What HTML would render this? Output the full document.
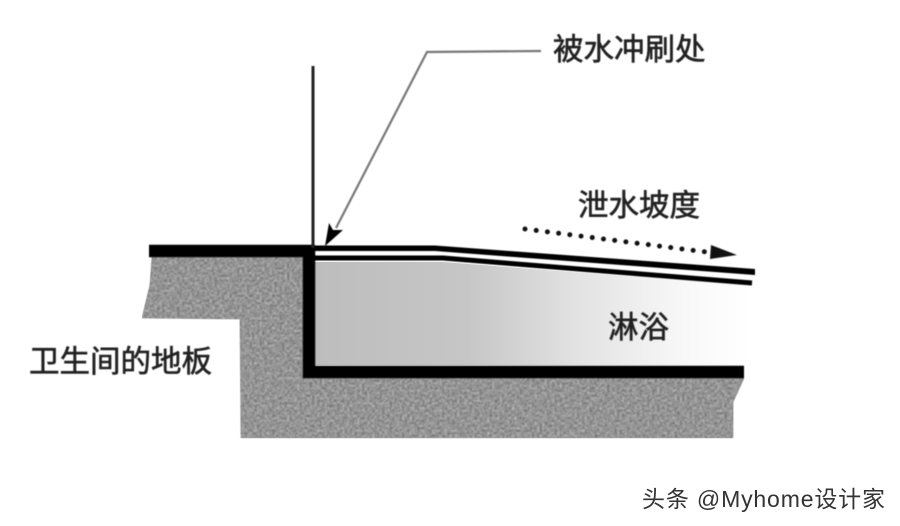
<!DOCTYPE html>
<html lang="zh">
<head>
<meta charset="utf-8">
<style>
html,body{margin:0;padding:0;background:#fff;width:900px;height:526px;overflow:hidden}
svg{display:block}
text{font-family:"Liberation Sans","Noto Sans CJK SC",sans-serif;fill:#222}
</style>
</head>
<body>
<svg width="900" height="526" viewBox="0 0 900 526" xmlns="http://www.w3.org/2000/svg">
<defs>
<linearGradient id="g" x1="315" x2="750" y1="0" y2="0" gradientUnits="userSpaceOnUse">
<stop offset="0" stop-color="#bdbdbd"/>
<stop offset="0.35" stop-color="#c6c6c6"/>
<stop offset="0.6" stop-color="#e2e2e2"/>
<stop offset="0.85" stop-color="#f8f8f8"/>
<stop offset="1" stop-color="#ffffff"/>
</linearGradient>
<filter id="grain" x="0" y="0" width="100%" height="100%" color-interpolation-filters="sRGB">
<feTurbulence type="fractalNoise" baseFrequency="0.4" numOctaves="2" seed="4" result="n"/>
<feColorMatrix in="n" type="matrix" values="0.5 0 0 0 0.33  0.5 0 0 0 0.33  0.5 0 0 0 0.33  0 0 0 0 1" result="c"/>
<feComposite in="c" in2="SourceGraphic" operator="in"/>
<feGaussianBlur stdDeviation="0.7"/>
</filter>
<filter id="s" color-interpolation-filters="sRGB"><feGaussianBlur stdDeviation="0.6"/></filter>
<filter id="t" color-interpolation-filters="sRGB"><feGaussianBlur stdDeviation="0.4"/></filter>
</defs>

<polygon points="152,257 303,257 303,378 744,378 733,402 733,438 241,438 240,319 142,318 150,285" fill="#8e8e8e" filter="url(#s)"/>
<polygon points="152,257 303,257 303,378 744,378 733,402 733,438 241,438 240,319 142,318 150,285" fill="#8e8e8e" filter="url(#grain)"/>

<polygon points="315,262 443,262 750,286 750,365 315,365" fill="url(#g)"/>

<g filter="url(#s)">
<path d="M149 251H315" stroke="#000" stroke-width="12.5" fill="none"/>
<path d="M309 251V372H744" stroke="#000" stroke-width="12.5" fill="none"/>
<path d="M313 66V248" stroke="#222" stroke-width="3" fill="none"/>
<polygon points="315,245.500 435,245.500 755,269 755,275 435,251 315,251" fill="#000"/>
<path d="M315 258H443L752 283" stroke="#000" stroke-width="5" fill="none"/>
<path d="M541 51L427 52L336 228" stroke="#777" stroke-width="2.2" fill="none"/>
<polygon points="325,246 329,223 333,230 343,230" fill="#000"/>
<path d="M525 229L706 252" stroke="#111" stroke-width="5" stroke-linecap="round" stroke-dasharray="0 11.3" fill="none"/>
<polygon points="711,245 737,255 710,259" fill="#111"/>
</g>

<g filter="url(#t)" font-size="30.5" style="stroke:#222;stroke-width:0.6px">
<text x="553" y="60">被水冲刷处</text>
<text x="578" y="216">泄水坡度</text>
<text x="608" y="338">淋浴</text>
<text x="29" y="372">卫生间的地板</text>
</g>
<text x="642" y="507" font-size="23" textLength="243" lengthAdjust="spacing" style="fill:#333">头条 @Myhome设计家</text>
</svg>
</body>
</html>
